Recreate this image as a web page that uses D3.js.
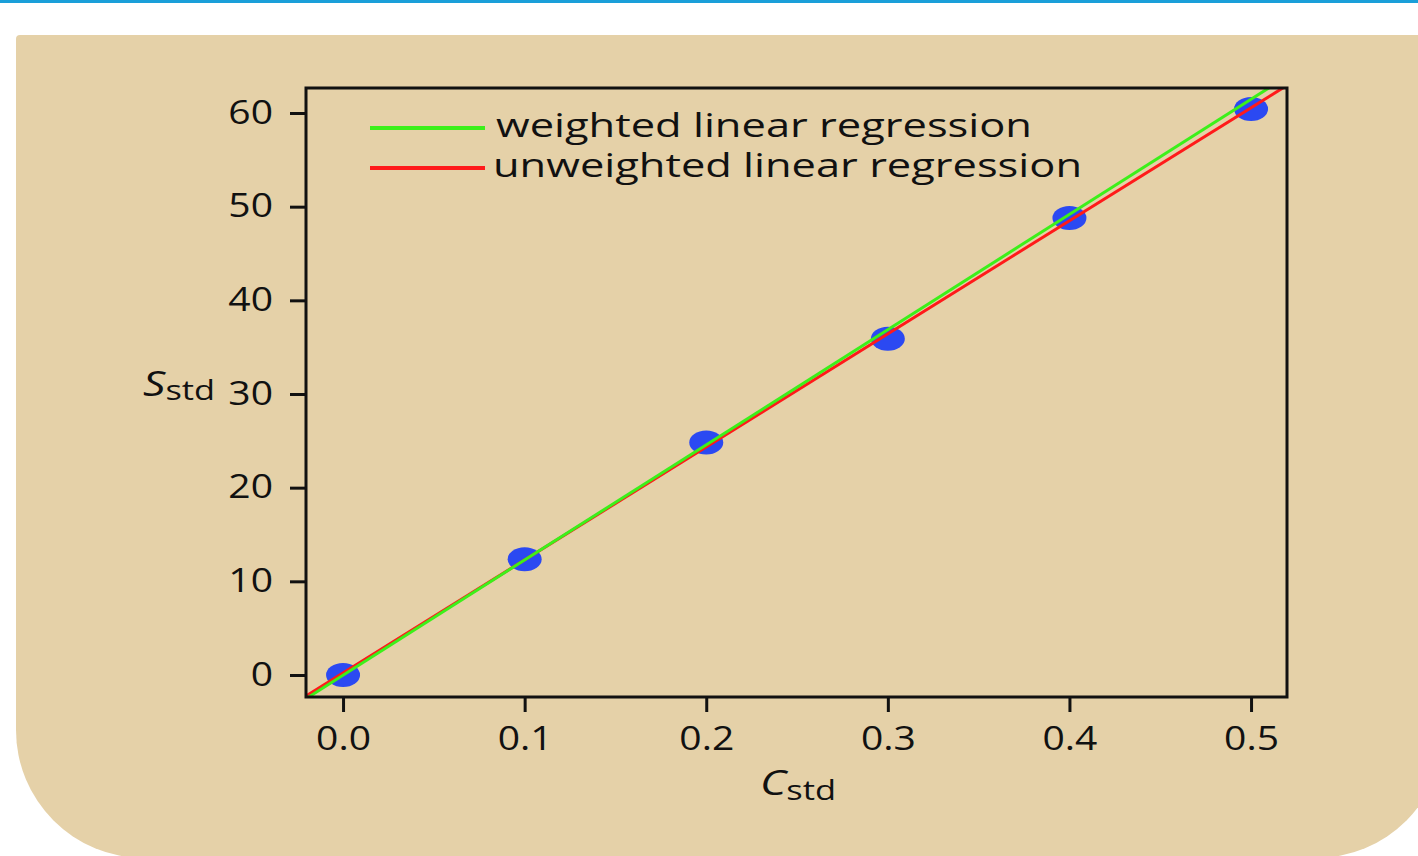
<!DOCTYPE html>
<html><head><meta charset="utf-8">
<script src="https://cdn.jsdelivr.net/npm/d3@7"></script>
<style>html,body{margin:0;padding:0;background:#fff;}svg{display:block;}</style>
</head><body>
<svg id="chart" width="1418" height="856"></svg>
<script>
// ---- data ----
const concentrations = [0.0, 0.1, 0.2, 0.3, 0.4, 0.5];
const signals = [0.00, 12.36, 24.83, 35.91, 48.79, 60.42];
const xTicks = [0.0, 0.1, 0.2, 0.3, 0.4, 0.5];
const yTicks = [0, 10, 20, 30, 40, 50, 60];
const weightedFit = { slope: 122.98, intercept: -0.02 };
const unweightedFit = { slope: 120.706, intercept: 0.209 };
const legendLabels = ["weighted linear regression", "unweighted linear regression"];

const FONT = "'Open Sans', 'Noto Sans', sans-serif";
const svg = d3.select("#chart");

// top accent line
svg.append("rect").attr("x",0).attr("y",0).attr("width",1418).attr("height",3).attr("fill","#1a9fd9");

// beige panel with rounded bottom corners
const x0=16,y0=35,x1=1444,y1=858,R=128;
svg.append("path")
  .attr("d",`M${x0},${y0+4} Q${x0},${y0} ${x0+4},${y0} L${x1},${y0} L${x1},${y1-R} A${R},${R} 0 0 1 ${x1-R},${y1} L${x0+R},${y1} A${R},${R} 0 0 1 ${x0},${y1-R} Z`)
  .attr("fill","#e5d1a8");

const L=306, Rr=1287, T=88, B=697;
const x = d3.scaleLinear().domain([-0.0204, 0.5198]).range([L, Rr]);
const y = d3.scaleLinear().domain([-2.35, 62.67]).range([B, T]);

function stretch(sel, f){
  sel.each(function(){
    const n=this.getComputedTextLength();
    d3.select(this).attr("textLength", n*f).attr("lengthAdjust","spacingAndGlyphs");
  });
}

// axes
const gy = svg.append("g").attr("transform",`translate(${L},0)`)
  .call(d3.axisLeft(y).tickValues(yTicks).tickSize(16).tickPadding(17).tickFormat(d3.format("d")));
const gx = svg.append("g").attr("transform",`translate(0,${B})`)
  .call(d3.axisBottom(x).tickValues(xTicks).tickSize(15).tickPadding(15).tickFormat(d3.format(".1f")));
[gx,gy].forEach(g=>{
  g.select(".domain").remove();
  g.selectAll(".tick line").attr("stroke","#111").attr("stroke-width",3);
  g.selectAll(".tick text").attr("font-family",FONT).attr("font-size",32).attr("fill","#111");
});
stretch(gy.selectAll(".tick text"),1.22);
stretch(gx.selectAll(".tick text"),1.22);

// points
svg.append("g").selectAll("ellipse").data(concentrations).join("ellipse")
  .attr("cx",(d)=>x(d)).attr("cy",(d,i)=>y(signals[i]))
  .attr("rx",17).attr("ry",12).attr("fill","#2b49f2");

// regression lines (clipped)
svg.append("clipPath").attr("id","plotclip").append("rect")
  .attr("x",L).attr("y",T).attr("width",Rr-L).attr("height",B-T);
const dom = x.domain();
const lineGen = d3.line().x(d=>x(d[0])).y(d=>y(d[1]));
const fits = [[unweightedFit,"#ff1a1a"],[weightedFit,"#3cf01a"]];
fits.forEach(([f,c])=>{
  const pts = dom.map(v=>[v, f.slope*v+f.intercept]);
  svg.append("path").attr("d",lineGen(pts)).attr("fill","none")
    .attr("stroke",c).attr("stroke-width",3).attr("clip-path","url(#plotclip)");
});

// frame
svg.append("rect").attr("x",L).attr("y",T).attr("width",Rr-L).attr("height",B-T)
  .attr("fill","none").attr("stroke","#111").attr("stroke-width",3);

// legend
const legColors = ["#3cf01a","#ff1a1a"];
const legY = [128,168];
const legTextX = [496,493];
const legLen = [536,589];
legendLabels.forEach((lab,i)=>{
  svg.append("line").attr("x1",370).attr("x2",485).attr("y1",legY[i]).attr("y2",legY[i])
    .attr("stroke",legColors[i]).attr("stroke-width",4);
  svg.append("text").attr("x",legTextX[i]).attr("y",legY[i]+9)
    .attr("font-family",FONT).attr("font-size",32).attr("fill","#111")
    .attr("textLength",legLen[i]).attr("lengthAdjust","spacingAndGlyphs").text(lab);
});

// axis titles
const yt = svg.append("text").attr("x",143).attr("y",396).attr("font-family",FONT).attr("fill","#111")
  .attr("textLength",72).attr("lengthAdjust","spacingAndGlyphs");
yt.append("tspan").attr("font-size",35).attr("font-style","italic").text("S");
yt.append("tspan").attr("font-size",27).attr("dy",4).attr("dx",0).text("std");

const xt = svg.append("text").attr("x",760).attr("y",795).attr("font-family",FONT).attr("fill","#111")
  .attr("textLength",76).attr("lengthAdjust","spacingAndGlyphs");
xt.append("tspan").attr("font-size",35).attr("font-style","italic").text("C");
xt.append("tspan").attr("font-size",27).attr("dy",5).attr("dx",0).text("std");
</script>
</body></html>
